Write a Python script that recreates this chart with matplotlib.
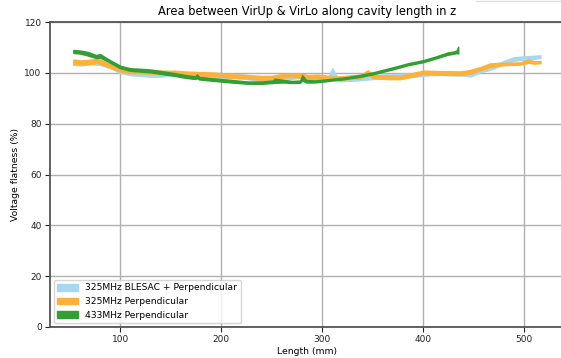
import matplotlib
matplotlib.use("Agg")
import matplotlib.pyplot as plt
from matplotlib.lines import Line2D

# 325MHz BLESAC + Perpendicular
z_blesac = [53.5, 62, 70, 80, 90, 100, 110, 120, 130, 140, 154, 165, 179, 190, 199, 210, 219, 230, 239, 250,
            258, 268, 278, 288, 298, 306, 310, 314, 318, 328, 338, 348, 357, 367, 377, 388, 400, 408, 417,
            427, 437, 447, 456, 466, 476, 489, 501, 509, 516]
up_blesac = [104.7, 104.5, 105.2, 104.5, 103.3, 101.4, 100.7, 100.2, 100.1, 100.0, 100.8, 99.8, 99.4, 99.5,
             99.3, 99.6, 99.4, 98.9, 98.2, 98.3, 98.7, 99.1, 99.6, 98.8, 98.2, 98.5, 101.8, 98.8, 98.3, 98.5,
             98.7, 99.0, 99.3, 99.4, 99.6, 99.8, 100.3, 100.7, 100.7, 100.5, 100.5, 100.1, 101.7, 102.7, 104.1,
             106.1, 106.5, 106.7, 106.9]
lo_blesac = [103.1, 102.9, 103.5, 103.1, 101.9, 99.9, 99.1, 98.8, 98.5, 98.5, 99.2, 98.4, 97.9, 97.8, 97.7,
             97.9, 97.8, 97.3, 96.6, 96.8, 97.1, 97.5, 98.1, 97.3, 96.6, 97.0, 99.0, 97.1, 96.7, 96.9, 97.1,
             97.5, 97.7, 97.9, 98.1, 98.3, 98.8, 99.1, 99.2, 99.0, 99.0, 98.6, 100.1, 101.2, 102.7, 104.7,
             105.3, 105.5, 105.9]

# 325MHz Perpendicular
z_perp325 = [53.5, 62, 70, 78, 88, 100, 110, 120, 130, 142, 154, 166, 179, 194, 209, 224, 239, 250, 258,
             268, 278, 286, 295, 303, 311, 320, 328, 338, 345, 350, 357, 367, 377, 388, 400, 413, 427, 437,
             446, 456, 466, 476, 486, 496, 504, 510, 516]
up_perp325 = [105.2, 104.9, 105.1, 105.6, 103.8, 101.9, 101.2, 101.1, 101.1, 100.9, 100.8, 100.5, 100.3, 100.1,
              99.5, 99.2, 98.8, 98.8, 99.4, 99.8, 99.6, 99.1, 99.3, 99.0, 98.5, 98.7, 99.0, 99.2, 101.0,
              99.4, 99.1, 98.9, 98.9, 99.8, 100.9, 100.7, 100.6, 100.5, 101.1, 102.2, 103.7, 103.9, 104.0,
              104.1, 105.3, 104.5, 104.7]
lo_perp325 = [103.5, 103.3, 103.4, 103.9, 102.3, 100.5, 99.9, 99.8, 99.7, 99.5, 99.4, 99.2, 98.9, 98.7, 98.1,
              97.8, 97.3, 97.4, 98.0, 98.4, 98.1, 97.7, 97.7, 97.5, 97.1, 97.3, 97.6, 97.8, 99.5, 98.0, 97.7,
              97.5, 97.5, 98.4, 99.5, 99.3, 99.2, 99.1, 99.7, 100.9, 102.3, 102.9, 103.1, 103.2, 104.0, 103.6,
              103.8]

# 433MHz Perpendicular
z_433 = [53.5, 60, 68, 76, 80, 88, 100, 110, 120, 130, 140, 152, 165, 174, 176, 178, 188, 199, 210, 226,
         240, 251, 253, 262, 270, 278, 280, 284, 292, 298, 310, 320, 328, 340, 350, 360, 372, 385, 400, 412,
         424, 430, 433, 434.6]
up_433 = [109.0, 108.8, 108.2, 107.0, 107.4, 105.4, 102.8, 101.8, 101.6, 101.3, 100.7, 100.0, 99.1, 98.6,
          99.4, 98.4, 98.0, 97.6, 97.2, 96.6, 96.6, 97.0, 97.7, 97.2, 96.8, 97.0, 99.1, 97.2, 97.0, 97.2,
          97.7, 98.1, 98.6, 99.4, 100.2, 101.2, 102.4, 103.8, 105.0, 106.4, 108.0, 108.4, 108.8, 110.3]
lo_433 = [107.8, 107.6, 106.8, 105.8, 106.0, 104.4, 101.8, 100.8, 100.5, 100.2, 99.6, 98.9, 98.0, 97.6, 97.9,
          97.4, 97.0, 96.6, 96.2, 95.7, 95.7, 96.0, 96.1, 96.2, 96.0, 96.1, 97.0, 96.2, 96.2, 96.4, 97.0,
          97.4, 97.9, 98.6, 99.4, 100.4, 101.6, 103.0, 104.2, 105.6, 107.1, 107.5, 107.8, 107.6]

fig = plt.figure(figsize=(5.61, 3.58), dpi=100)
ax = fig.add_axes([50 / 561, 31 / 358, 513.7 / 561, 305 / 358])

ax.fill_between(z_blesac, lo_blesac, up_blesac, color="#a8d8ef", label="325MHz BLESAC + Perpendicular")
ax.fill_between(z_perp325, lo_perp325, up_perp325, color="#fbb13c", label="325MHz Perpendicular")
ax.fill_between(z_433, lo_433, up_433, color="#339e33", label="433MHz Perpendicular")

ax.set_xlim(30.4, 539)
ax.set_ylim(0, 120)
ax.set_xticks([100, 200, 300, 400, 500])
ax.set_yticks([0, 20, 40, 60, 80, 100, 120])
ax.grid(True, color="#b0b0b0", linewidth=1)
ax.set_axisbelow(True)
for s in ax.spines.values():
    s.set_color("#555555")
    s.set_linewidth(1.3)
ax.tick_params(labelsize=6.5, colors="#222222", length=3.5, pad=2.5)

ax.set_title("Area between VirUp & VirLo along cavity length in z", fontsize=8.3, pad=5)
ax.set_xlabel("Length (mm)", fontsize=6.7, labelpad=2)
ax.set_ylabel("Voltage flatness (%)", fontsize=6.7, labelpad=3)
ax.legend(loc="lower left", fontsize=6.6, handlelength=2.2, borderaxespad=0.4)

# faint edge of a box cut off at the top right
fig.add_artist(Line2D([476 / 561, 1.0], [357.5 / 358, 357.5 / 358], transform=fig.transFigure,
                      color="#dddddd", linewidth=1))

fig.savefig("out.png", dpi=100)
